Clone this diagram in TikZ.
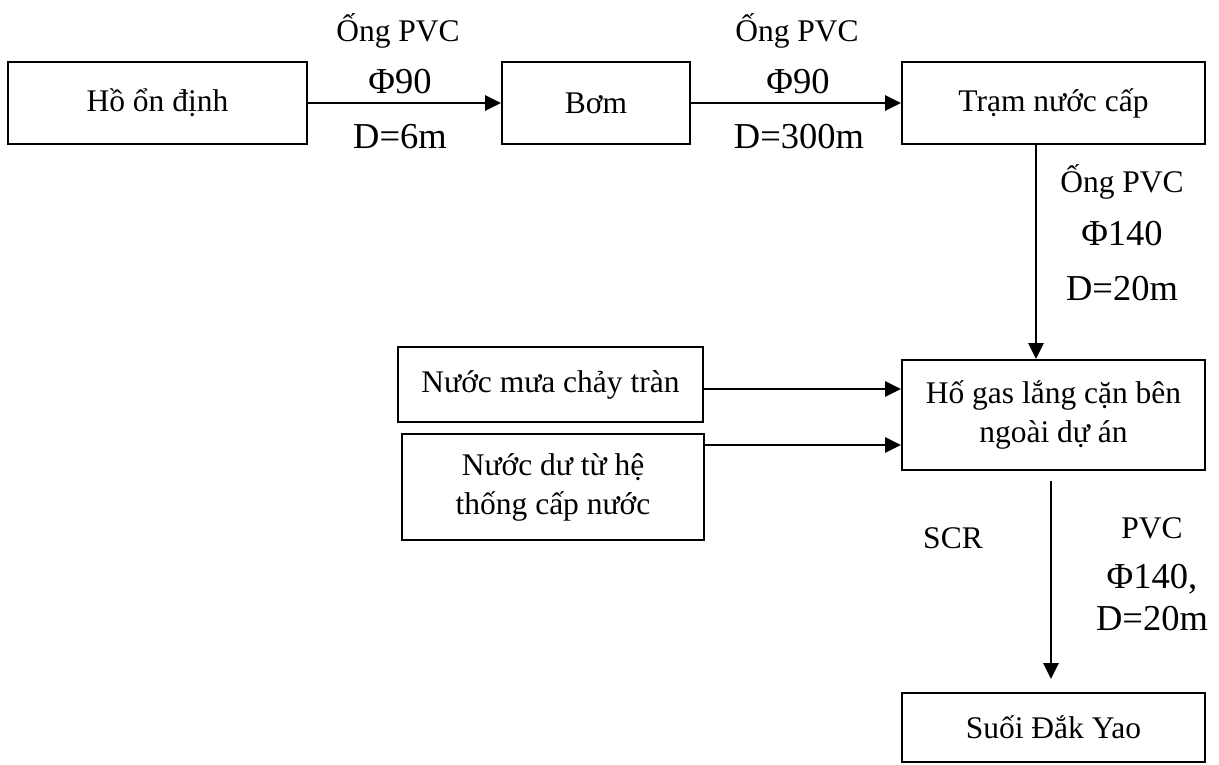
\documentclass[tikz,border=0pt]{standalone}
\usepackage{fontspec}
\setmainfont{Liberation Serif}
\usetikzlibrary{arrows.meta,calc}
\newcommand\fsmall{\fontsize{31.5}{39}\selectfont}
\newcommand\fbig{\fontsize{36.5}{44}\selectfont}
\begin{document}
\begin{tikzpicture}[x=1pt,y=-1pt,
  box/.style={draw,line width=2pt,rectangle,inner sep=0pt,font=\fsmall,align=center},
  arr/.style={line width=2.8pt,-{Triangle[length=16pt,width=15pt]}},
  lbs/.style={anchor=base,inner sep=0pt,font=\fsmall},
  lbb/.style={anchor=base,inner sep=0pt,font=\fbig}]
\useasboundingbox (0,0) rectangle (1219,764);
% boxes
\node[box,minimum width=299pt,minimum height=82pt] (hoon) at (157.5,103) {Hồ ổn định};
\node[box,minimum width=188pt,minimum height=82pt] (bom) at (596,103) {Bơm};
\node[box,minimum width=303pt,minimum height=82pt] (tram) at (1053.5,103) {Trạm nước cấp};
\node[box,minimum width=303pt,minimum height=110pt] (hogas) at (1053.5,415) {Hố gas lắng cặn bên\\ngoài dự án};
\node[box,minimum width=305pt,minimum height=75pt] (mua) at (550.5,384.5) {Nước mưa chảy tràn};
\node[box,minimum width=302pt,minimum height=106pt] (du) at (553,487) {Nước dư từ hệ\\thống cấp nước};
\node[box,minimum width=303pt,minimum height=69pt] (suoi) at (1053.5,727.5) {Suối Đắk Yao};
% helper coordinates
\coordinate (v1) at (1036,0);
\coordinate (v2) at (1051,0);
\coordinate (h1) at (0,389);
\coordinate (h2) at (0,445);
% connectors
\draw[arr] (hoon.east) -- (bom.west);
\draw[arr] (bom.east) -- (tram.west);
\draw[arr] (tram.south -| v1) -- (hogas.north -| v1);
\draw[arr] (mua.east |- h1) -- (hogas.west |- h1);
\draw[arr] (du.east |- h2) -- (hogas.west |- h2);
\draw[arr,shorten >=13pt] ($(hogas.south -| v2)+(0,10)$) -- (suoi.north -| v2);
% labels
\node[lbs] (l1a) at (398,41) {Ống PVC};
\node[lbb] (l1b) at (400,93) {Φ90};
\node[lbb] (l1c) at (400,148) {D=6m};
\node[lbs] (l2a) at (797,41) {Ống PVC};
\node[lbb] (l2b) at (798,93) {Φ90};
\node[lbb] (l2c) at (799,148) {D=300m};
\node[lbs] (l3a) at (1122,192) {Ống PVC};
\node[lbb] (l3b) at (1122,245) {Φ140};
\node[lbb] (l3c) at (1122,300) {D=20m};
\node[lbs] (scr) at (953,548) {SCR};
\node[lbs] (l4a) at (1152,538) {PVC};
\node[lbb] (l4b) at (1152,588) {Φ140,};
\node[lbb] (l4c) at (1152,630) {D=20m};
\end{tikzpicture}
\end{document}
